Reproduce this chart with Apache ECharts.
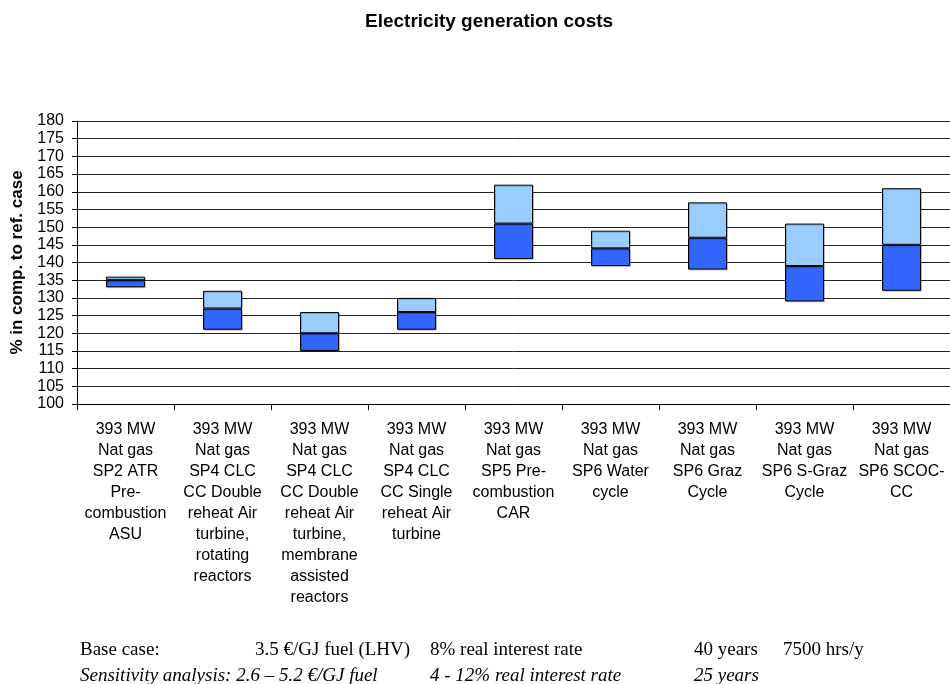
<!DOCTYPE html>
<html>
<head>
<meta charset="utf-8">
<title>Electricity generation costs</title>
<script src="https://cdn.jsdelivr.net/npm/echarts@6/dist/echarts.min.js"></script>
<style>
  html, body { margin: 0; padding: 0; background: #fff; }
  #chart { width: 950px; height: 684px; }
</style>
</head>
<body>
<div id="chart"></div>
<script>
// Plant configurations on the x axis
const categories = [
  '393 MW\nNat gas\nSP2 ATR\nPre-\ncombustion\nASU',
  '393 MW\nNat gas\nSP4 CLC\nCC Double\nreheat Air\nturbine,\nrotating\nreactors',
  '393 MW\nNat gas\nSP4 CLC\nCC Double\nreheat Air\nturbine,\nmembrane\nassisted\nreactors',
  '393 MW\nNat gas\nSP4 CLC\nCC Single\nreheat Air\nturbine',
  '393 MW\nNat gas\nSP5 Pre-\ncombustion\nCAR',
  '393 MW\nNat gas\nSP6 Water\ncycle',
  '393 MW\nNat gas\nSP6 Graz\nCycle',
  '393 MW\nNat gas\nSP6 S-Graz\nCycle',
  '393 MW\nNat gas\nSP6 SCOC-\nCC'
];

// Cost relative to the reference case (%): sensitivity low, base case, sensitivity high
const lowValues  = [133, 121, 115, 121, 141, 139, 138, 129, 132];
const baseValues = [135, 127, 120, 126, 151, 144, 147, 139, 145];
const highValues = [136, 132, 126, 130, 162, 149, 157, 151, 161];

// Footnote lines
const baseCaseText = ['Base case:', '3.5 \u20ac/GJ fuel (LHV)', '8% real interest rate', '40 years', '7500 hrs/y'];
const sensitivityText = ['Sensitivity analysis: 2.6 \u2013 5.2 \u20ac/GJ fuel', '4 - 12% real interest rate', '25 years'];

const lowerBand = baseValues.map((v, i) => v - lowValues[i]);
const upperBand = highValues.map((v, i) => v - baseValues[i]);

const chart = echarts.init(document.getElementById('chart'), null, { renderer: 'canvas' });

const sans = 'Arial, "Liberation Sans", sans-serif';
const serif = '"Times New Roman", "Liberation Serif", serif';

const footXs1 = [80, 255, 430, 694, 783];
const footXs2 = [80, 430, 694];

const graphics = [];
baseCaseText.forEach((t, i) => graphics.push({
  type: 'text', left: footXs1[i], top: 641,
  style: { text: t, font: '19px ' + serif, fill: '#000' }
}));
sensitivityText.forEach((t, i) => graphics.push({
  type: 'text', left: footXs2[i], top: 666,
  style: { text: t, font: 'italic 19px ' + serif, fill: '#000' }
}));

const barStyle = (color) => ({
  color: color,
  borderColor: '#000',
  borderWidth: 1,
  shadowColor: 'rgba(0,0,0,0.2)',
  shadowOffsetX: 1,
  shadowOffsetY: 1
});

chart.setOption({
  animation: false,
  backgroundColor: '#fff',
  title: {
    text: 'Electricity generation costs',
    left: 360,
    top: 7,
    textStyle: { fontFamily: sans, fontSize: 19, fontWeight: 'bold', color: '#000' }
  },
  grid: {
    left: 77, right: 0, top: 121, bottom: 280,
    containLabel: false,
    outerBoundsMode: 'none'
  },
  xAxis: {
    type: 'category',
    data: categories,
    boundaryGap: true,
    axisLine: { lineStyle: { color: '#000', width: 1 } },
    axisTick: { show: true, alignWithLabel: false, length: 6, lineStyle: { color: '#000' } },
    axisLabel: {
      interval: 0,
      color: '#000',
      fontFamily: sans,
      fontSize: 16,
      lineHeight: 21,
      margin: 15,
      align: 'center'
    },
    splitLine: { show: false }
  },
  yAxis: {
    type: 'value',
    min: 100,
    max: 180,
    interval: 5,
    name: '% in comp. to ref. case',
    nameLocation: 'middle',
    nameRotate: 90,
    nameGap: 51,
    nameTextStyle: { fontFamily: sans, fontSize: 17, fontWeight: 'bold', color: '#000' },
    axisLine: { show: true, lineStyle: { color: '#000', width: 1 } },
    axisTick: { show: true, length: 5, lineStyle: { color: '#000' } },
    axisLabel: { color: '#000', fontFamily: sans, fontSize: 16, margin: 13 },
    splitLine: { show: true, lineStyle: { color: '#222', width: 1 } }
  },
  series: [
    {
      name: 'offset',
      type: 'bar',
      stack: 'range',
      data: lowValues,
      barWidth: 39,
      itemStyle: { color: 'transparent' },
      silent: true
    },
    {
      name: 'lower',
      type: 'bar',
      stack: 'range',
      data: lowerBand,
      barWidth: 39,
      itemStyle: barStyle('#3366FF')
    },
    {
      name: 'upper',
      type: 'bar',
      stack: 'range',
      data: upperBand,
      barWidth: 39,
      itemStyle: barStyle('#99CCFF')
    }
  ],
  graphic: graphics
});
</script>
</body>
</html>
